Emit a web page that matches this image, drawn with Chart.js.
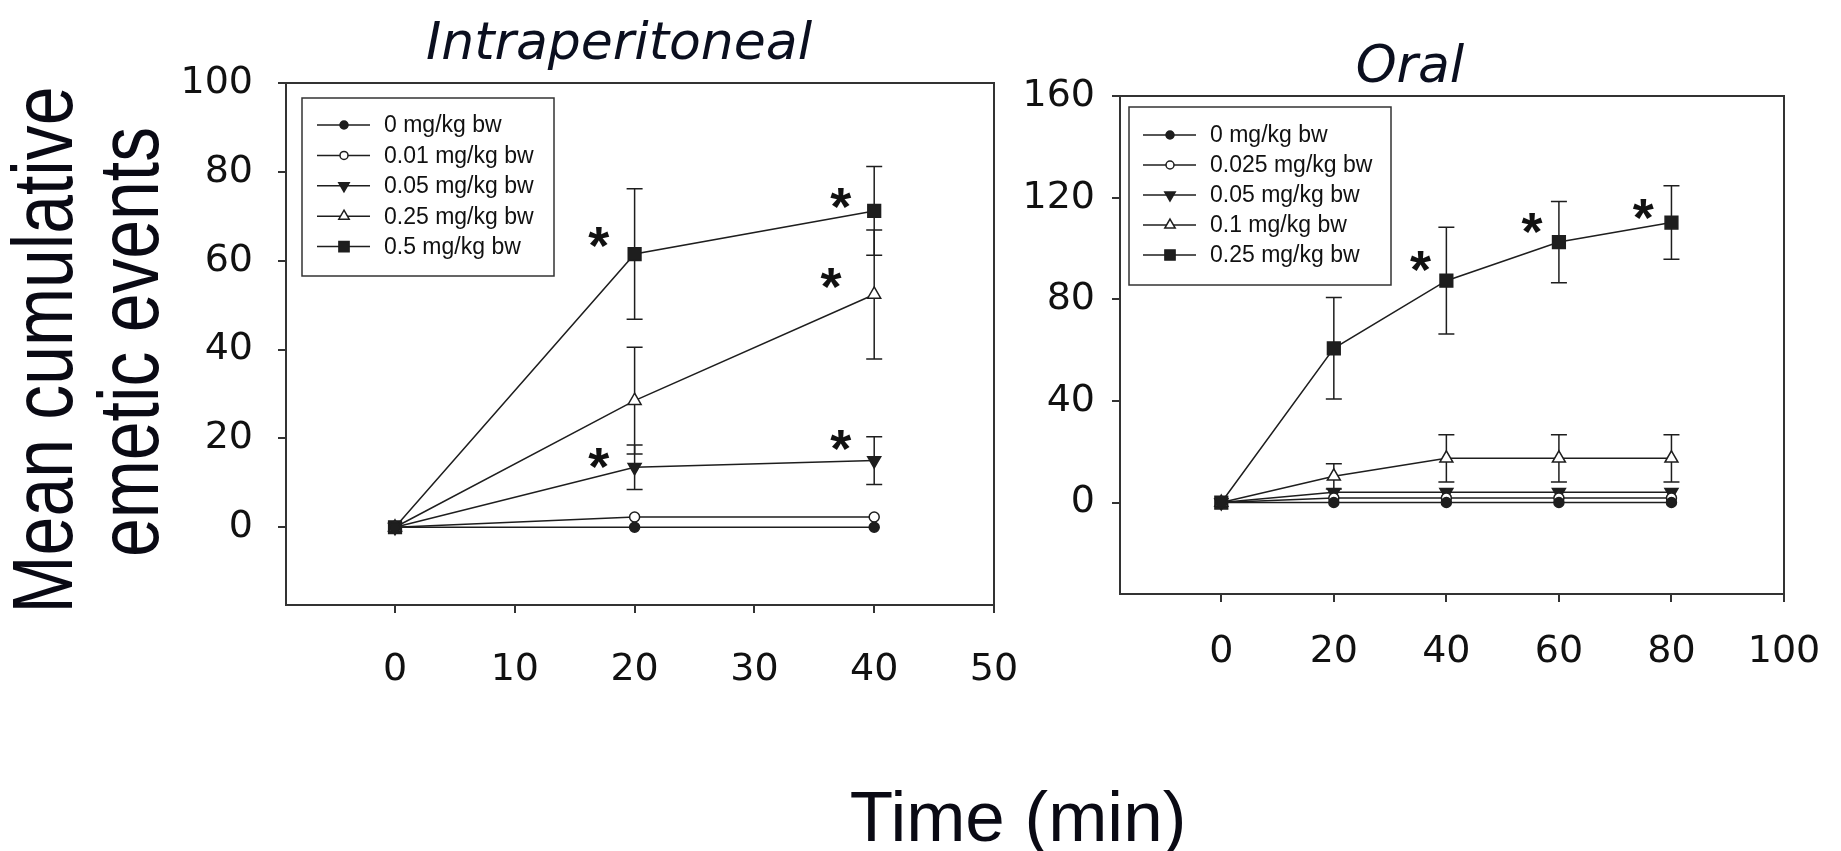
<!DOCTYPE html>
<html>
<head>
<meta charset="utf-8">
<title>Mean cumulative emetic events</title>
<script src="https://cdn.jsdelivr.net/npm/chart.js@4.4.1/dist/chart.umd.min.js"></script>
<style>
  html, body { margin: 0; padding: 0; background: #fff; }
  body { width: 1841px; height: 851px; position: relative; overflow: hidden; }
  canvas { position: absolute; top: 0; }
  #ipChart { left: 150px; }
  #oralChart { left: 990px; }
  .title {
    position: absolute;
    font-family: "DejaVu Sans", sans-serif;
    font-style: italic;
    font-size: 52px;
    line-height: 1;
    color: #0b0f1f;
    white-space: nowrap;
    transform: translateX(-50%);
  }
  .ylab {
    position: absolute;
    font-family: "Liberation Sans", Arial, sans-serif;
    font-size: 85px;
    line-height: 1;
    color: #0a0a14;
    white-space: nowrap;
    transform: translate(-50%, -50%) rotate(-90deg) scaleX(0.82);
  }
  #xlab {
    position: absolute;
    left: 1018px;
    top: 781px;
    font-family: "Liberation Sans", Arial, sans-serif;
    font-size: 71px;
    line-height: 1;
    color: #0a0a14;
    white-space: nowrap;
    transform: translateX(-50%);
  }
</style>
</head>
<body>
<div class="title" style="left:619px; top:15px;">Intraperitoneal</div>
<div class="title" style="left:1410px; top:38px;">Oral</div>
<div class="ylab" style="left:42px; top:350px;">Mean cumulative</div>
<div class="ylab" style="left:128px; top:342px;">emetic events</div>
<div id="xlab">Time (min)</div>

<canvas id="ipChart" width="870" height="720"></canvas>
<canvas id="oralChart" width="851" height="720"></canvas>

<script>
// Intraperitoneal panel
const ipTimes = [0, 20, 40];
const ipXTicks = [0, 10, 20, 30, 40, 50];
const ipYTicks = [0, 20, 40, 60, 80, 100];
const ipDose0 = [0, 0, 0];
const ipDose001 = [0, 2.3, 2.3];
const ipDose005 = [0, 13.5, 15.0];
const ipDose025 = [0, 28.5, 52.4];
const ipDose05 = [0, 61.5, 71.2];
const ipErr005 = [0, 5.0, 5.4];
const ipErr025 = [0, 12.0, 14.5];
const ipErr05 = [0, 14.7, 10.0];
const ipStarX = [17.0, 17.0, 37.2, 36.4, 37.2];
const ipStarY = [66.4, 16.5, 75.0, 57.0, 20.6];

// Oral panel
const oralTimes = [0, 20, 40, 60, 80];
const oralXTicks = [0, 20, 40, 60, 80, 100];
const oralYTicks = [0, 40, 80, 120, 160];
const oralDose0 = [0, 0, 0, 0, 0];
const oralDose0025 = [0, 1.8, 1.8, 1.8, 1.8];
const oralDose005 = [0, 4.0, 4.0, 4.0, 4.0];
const oralDose01 = [0, 10.3, 17.4, 17.4, 17.4];
const oralDose025 = [0, 60.7, 87.3, 102.5, 110.2];
const oralErr01 = [0, 5.0, 9.3, 9.3, 9.3];
const oralErr025 = [0, 20.0, 21.0, 16.0, 14.5];
const oralStarX = [35.4, 55.2, 75.0];
const oralStarY = [96.6, 111.7, 117.2];

const LINE_COLOR = "#1e1e1e";
const AXIS_COLOR = "#333333";
const TEXT_COLOR = "#111111";
const TICK_FONT = { family: "'DejaVu Sans', sans-serif", size: 38 };

const filledCircle = { pointStyle: "circle", pointRadius: 5, pointBackgroundColor: LINE_COLOR };
const openCircle = { pointStyle: "circle", pointRadius: 5, pointBackgroundColor: "#ffffff" };
const filledTriangleDown = { pointStyle: "triangle", pointRotation: 180, pointRadius: 7.5, pointBackgroundColor: LINE_COLOR };
const openTriangle = { pointStyle: "triangle", pointRadius: 7.5, pointBackgroundColor: "#ffffff" };
const filledSquare = { pointStyle: "rect", pointRadius: 9, pointBackgroundColor: LINE_COLOR };

function series(label, times, values, errors, marker) {
  return {
    label,
    data: times.map((t, i) => ({ x: t, y: values[i] })),
    errors,
    borderColor: LINE_COLOR,
    borderWidth: 1.5,
    pointBorderColor: LINE_COLOR,
    pointBorderWidth: 1.5,
    tension: 0,
    fill: false,
    ...marker,
    pointHoverRadius: marker.pointRadius
  };
}

const frameBox = {
  id: "frameBox",
  afterDraw(chart) {
    const { ctx, chartArea: a } = chart;
    ctx.save();
    ctx.strokeStyle = AXIS_COLOR;
    ctx.lineWidth = 2;
    ctx.beginPath();
    ctx.moveTo(a.left, a.top);
    ctx.lineTo(a.right, a.top);
    ctx.lineTo(a.right, a.bottom);
    ctx.stroke();
    ctx.restore();
  }
};

const errorBars = {
  id: "errorBars",
  beforeDatasetsDraw(chart) {
    const { ctx, scales } = chart;
    const cap = 8;
    ctx.save();
    ctx.strokeStyle = LINE_COLOR;
    ctx.lineWidth = 1.5;
    chart.data.datasets.forEach((ds) => {
      if (!ds.errors) return;
      ds.data.forEach((p, i) => {
        const e = ds.errors[i];
        if (!e) return;
        const px = scales.x.getPixelForValue(p.x);
        const top = scales.y.getPixelForValue(p.y + e);
        const bot = scales.y.getPixelForValue(p.y - e);
        ctx.beginPath();
        ctx.moveTo(px, top);
        ctx.lineTo(px, bot);
        ctx.moveTo(px - cap, top);
        ctx.lineTo(px + cap, top);
        ctx.moveTo(px - cap, bot);
        ctx.lineTo(px + cap, bot);
        ctx.stroke();
      });
    });
    ctx.restore();
  }
};

const stars = {
  id: "stars",
  afterDatasetsDraw(chart, args, opts) {
    const { ctx, scales } = chart;
    const size = 54;
    ctx.save();
    ctx.fillStyle = TEXT_COLOR;
    ctx.font = "bold " + size + "px 'Liberation Sans', Arial, sans-serif";
    ctx.textAlign = "center";
    ctx.textBaseline = "alphabetic";
    (opts.xs || []).forEach((v, i) => {
      const px = scales.x.getPixelForValue(v);
      const py = scales.y.getPixelForValue(opts.ys[i]);
      ctx.fillText("*", px, py + size * 0.58);
    });
    ctx.restore();
  }
};

const boxLegend = {
  id: "boxLegend",
  afterDraw(chart, args, o) {
    const { ctx, chartArea: a } = chart;
    const bx = a.left + o.dx;
    const by = a.top + o.dy;
    ctx.save();
    ctx.strokeStyle = AXIS_COLOR;
    ctx.lineWidth = 1.5;
    ctx.strokeRect(bx, by, o.w, o.h);
    ctx.font = "23px 'Liberation Sans', Arial, sans-serif";
    ctx.textBaseline = "middle";
    ctx.textAlign = "left";
    chart.data.datasets.forEach((ds, i) => {
      const cy = by + o.firstRow + i * o.rowGap;
      ctx.strokeStyle = LINE_COLOR;
      ctx.lineWidth = 1.5;
      ctx.beginPath();
      ctx.moveTo(bx + o.lineFrom, cy);
      ctx.lineTo(bx + o.lineTo, cy);
      ctx.stroke();
      ctx.fillStyle = ds.pointBackgroundColor;
      Chart.helpers.drawPoint(ctx, {
        pointStyle: ds.pointStyle,
        rotation: ds.pointRotation || 0,
        radius: ds.pointRadius * 0.8,
        borderWidth: 1.5
      }, bx + o.markX, cy);
      ctx.fillStyle = TEXT_COLOR;
      ctx.fillText(ds.label, bx + o.textX, cy + 1);
    });
    ctx.restore();
  }
};

function axes(xMin, xMax, xTicks, yMin, yMax, yTicks, yWidth, xHeight, yPad, xPad) {
  const grid = { drawOnChartArea: false, tickLength: 8, color: AXIS_COLOR, lineWidth: 2 };
  const border = { display: true, color: AXIS_COLOR, width: 2 };
  return {
    x: {
      type: "linear",
      min: xMin,
      max: xMax,
      afterBuildTicks(scale) { scale.ticks = xTicks.map((v) => ({ value: v })); },
      afterFit(scale) {
        scale.height = xHeight;
        scale.paddingLeft = 0;
        scale.paddingRight = 0;
      },
      grid,
      border,
      ticks: { font: TICK_FONT, color: TEXT_COLOR, padding: xPad, maxRotation: 0, autoSkip: false }
    },
    y: {
      type: "linear",
      min: yMin,
      max: yMax,
      afterBuildTicks(scale) { scale.ticks = yTicks.map((v) => ({ value: v })); },
      afterFit(scale) {
        scale.width = yWidth;
        scale.paddingTop = 0;
        scale.paddingBottom = 0;
      },
      grid,
      border,
      ticks: { font: TICK_FONT, color: TEXT_COLOR, padding: yPad, autoSkip: false }
    }
  };
}

function makeChart(id, datasets, scales, padding, legendBox, starOpts) {
  return new Chart(document.getElementById(id), {
    type: "line",
    data: { datasets },
    options: {
      responsive: false,
      animation: false,
      events: [],
      layout: { padding },
      scales,
      plugins: {
        legend: { display: false },
        tooltip: { enabled: false },
        boxLegend: legendBox,
        stars: starOpts
      }
    },
    plugins: [errorBars, frameBox, stars, boxLegend]
  });
}

makeChart(
  "ipChart",
  [
    series("0 mg/kg bw", ipTimes, ipDose0, null, filledCircle),
    series("0.01 mg/kg bw", ipTimes, ipDose001, null, openCircle),
    series("0.05 mg/kg bw", ipTimes, ipDose005, ipErr005, filledTriangleDown),
    series("0.25 mg/kg bw", ipTimes, ipDose025, ipErr025, openTriangle),
    series("0.5 mg/kg bw", ipTimes, ipDose05, ipErr05, filledSquare)
  ],
  axes(-9.1, 50, ipXTicks, -17.5, 100, ipYTicks, 136, 115, 25, 34),
  { top: 83, right: 26, left: 0, bottom: 0 },
  { dx: 16, dy: 15, w: 252, h: 178, firstRow: 27, rowGap: 30.4, lineFrom: 15, lineTo: 68, markX: 42, textX: 82 },
  { xs: ipStarX, ys: ipStarY }
);

makeChart(
  "oralChart",
  [
    series("0 mg/kg bw", oralTimes, oralDose0, null, filledCircle),
    series("0.025 mg/kg bw", oralTimes, oralDose0025, null, openCircle),
    series("0.05 mg/kg bw", oralTimes, oralDose005, null, filledTriangleDown),
    series("0.1 mg/kg bw", oralTimes, oralDose01, oralErr01, openTriangle),
    series("0.25 mg/kg bw", oralTimes, oralDose025, oralErr025, filledSquare)
  ],
  axes(-18, 100, oralXTicks, -36, 160, oralYTicks, 130, 126, 17, 27),
  { top: 96, right: 57, left: 0, bottom: 0 },
  { dx: 9, dy: 11, w: 262, h: 178, firstRow: 28, rowGap: 30, lineFrom: 14, lineTo: 67, markX: 41, textX: 81 },
  { xs: oralStarX, ys: oralStarY }
);
</script>
</body>
</html>
